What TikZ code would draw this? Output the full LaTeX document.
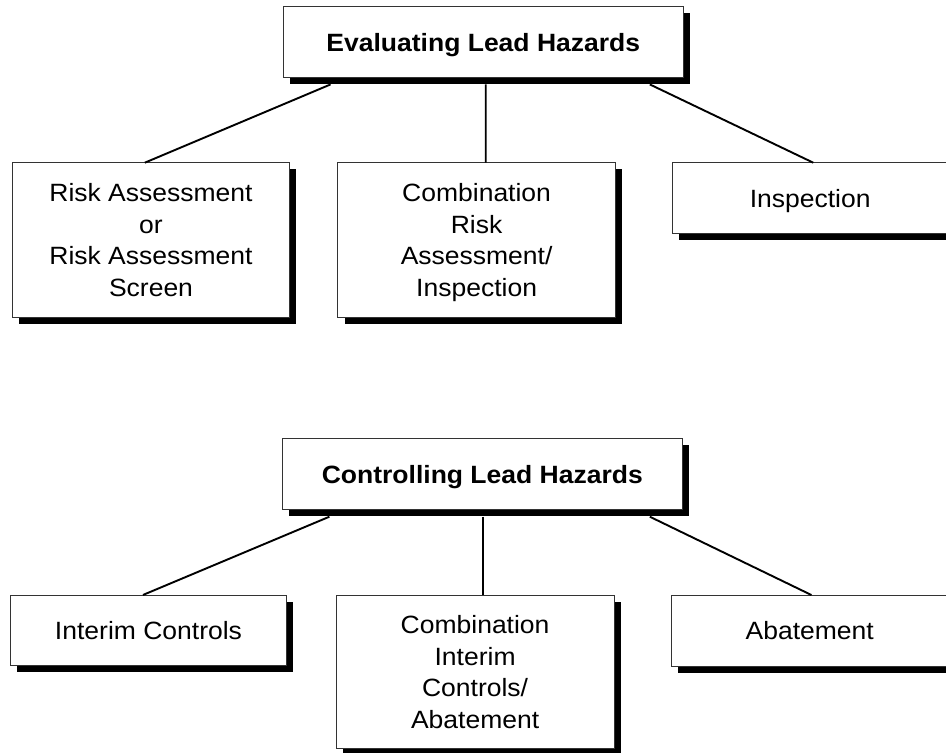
\documentclass[tikz,border=0pt]{standalone}
\usepackage{fontspec}
\setmainfont{Liberation Sans}[FakeStretch=1.06]
\usetikzlibrary{shadows,calc}
\begin{document}
\begin{tikzpicture}[x=1pt,y=-1pt,
  box/.style={draw=black!80, line width=0.9pt, fill=white, rectangle,
    inner sep=0pt, outer sep=0pt, align=center, text depth=0pt,
    font=\fontsize{25}{31.7}\selectfont,
    drop shadow={shadow xshift=6.7pt, shadow yshift=-6.7pt, fill=black, opacity=1}},
  titlebox/.style={box, font=\fontsize{25}{31.7}\selectfont\bfseries},
  link/.style={line width=1.9pt, black}]
\useasboundingbox (0,0) rectangle (946,753);

% ---- Evaluating ----
\node[titlebox, minimum width=400pt, minimum height=71pt] (T1) at (483.3,42.2) {Evaluating Lead Hazards};
\node[box, minimum width=276.6pt, minimum height=154.6pt] (L1) at (151,240) {Risk Assessment\\or\\Risk Assessment\\Screen};
\node[box, minimum width=277.6pt, minimum height=154.6pt] (M1) at (476.6,240) {Combination\\Risk\\Assessment/\\Inspection};
\node[box, minimum width=275.6pt, minimum height=70.6pt] (R1) at (810.2,198) {Inspection};

\draw[link] ($(T1.south)+(-152.7,6.7)$) -- ($(L1.north)+(-6.2,0)$);
\draw[link] ($(T1.south)+(2.4,6.7)$) -- ($(M1.north)+(9.1,0)$);
\draw[link] ($(T1.south)+(166.5,6.7)$) -- ($(R1.north)+(3.1,0)$);

% ---- Controlling ----
\node[titlebox, minimum width=400pt, minimum height=71pt] (T2) at (482.3,474.2) {Controlling Lead Hazards};
\node[box, minimum width=276.3pt, minimum height=70.7pt] (L2) at (148.5,630.3) {Interim Controls};
\node[box, minimum width=278.2pt, minimum height=153.7pt] (M2) at (475.1,671.8) {Combination\\Interim\\Controls/\\Abatement};
\node[box, minimum width=276.4pt, minimum height=71pt] (R2) at (809.7,630.5) {Abatement};

\draw[link] ($(T2.south)+(-152.9,7)$) -- ($(L2.north)+(-5.5,0)$);
\draw[link] ($(T2.south)+(1,7)$) -- ($(M2.north)+(8.2,0)$);
\draw[link] ($(T2.south)+(167.5,7)$) -- ($(R2.north)+(1.7,0)$);
\end{tikzpicture}
\end{document}
